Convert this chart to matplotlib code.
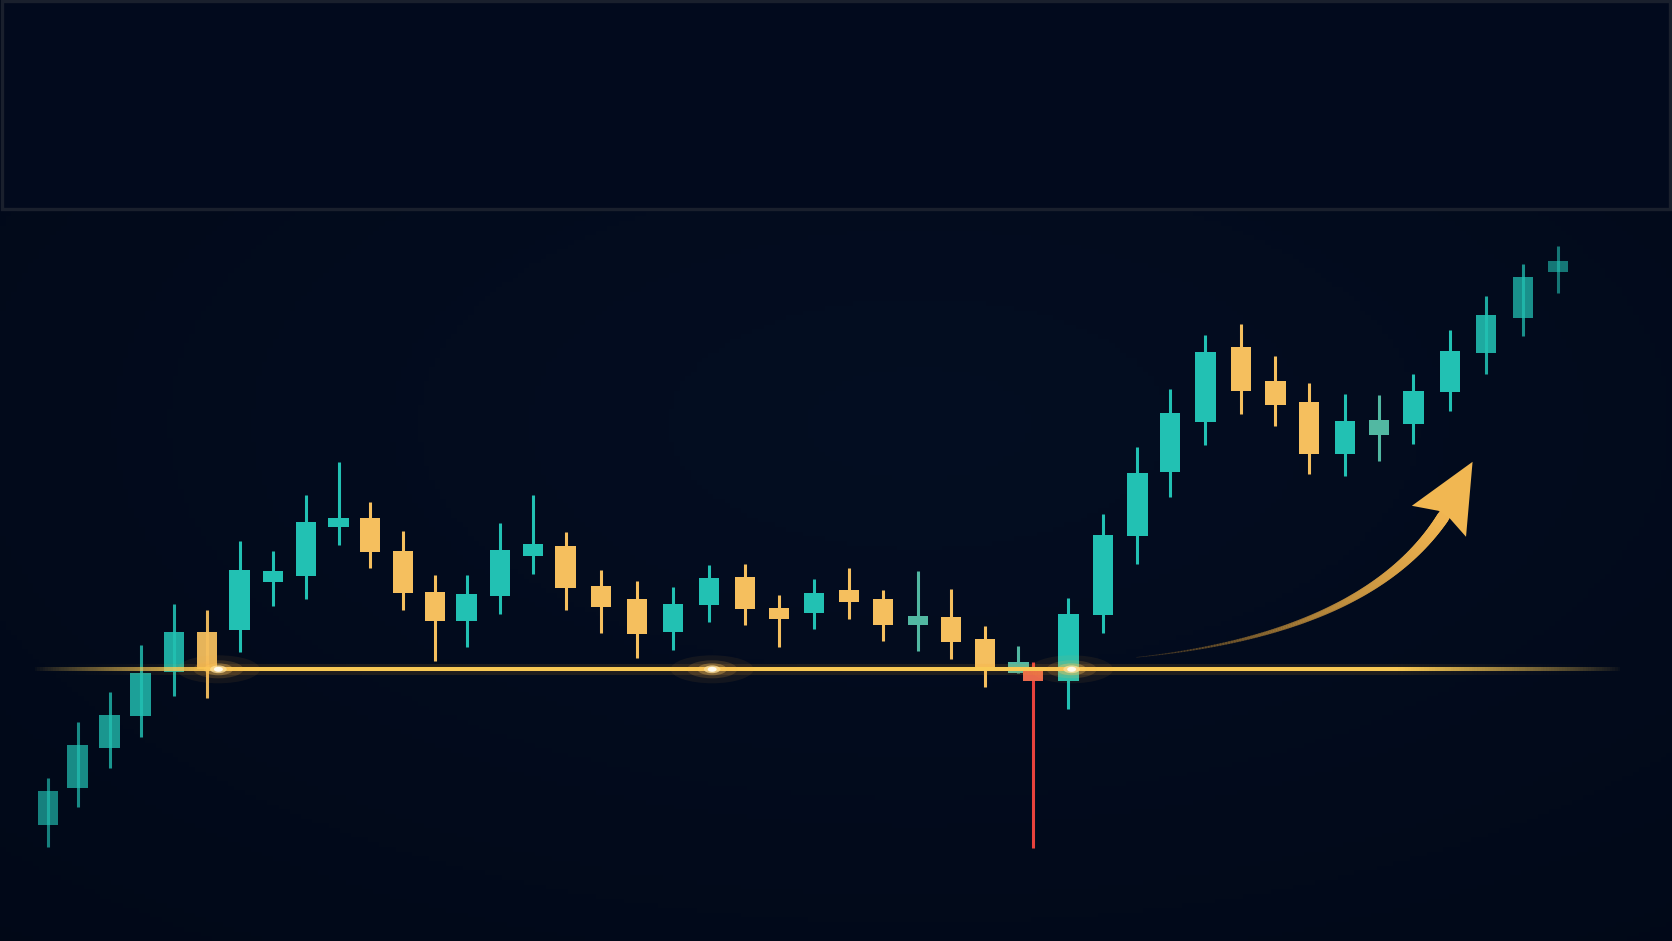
import numpy as np
import matplotlib.pyplot as plt
from matplotlib.collections import LineCollection
from matplotlib.patches import Rectangle, Polygon, Ellipse
from matplotlib.colors import to_rgba

# session positions (spacing is a bit uneven in the picture) and OHLC prices
x_pos = [0, 0.86, 1.79, 2.69, 3.65, 4.61, 5.56, 6.52, 7.48, 8.43, 9.33, 10.29,
         11.22, 12.14, 13.10, 14.06, 15.01, 16.03, 17.07, 18.12, 19.16, 20.20,
         21.19, 22.20, 23.22, 24.20, 25.22, 26.17, 27.16, 28.12, 28.55, 29.57,
         30.58, 31.57, 32.52, 33.54, 34.58, 35.57, 36.55, 37.59, 38.58, 39.57,
         40.64, 41.68, 42.75, 43.77]
opens = [68.9, 76.3, 84.2, 90.7, 99.5, 107.4, 107.9, 117.5, 118.7, 128.5, 130.2, 123.7,
         115.5, 109.7, 114.7, 122.7, 124.7, 116.7, 114.0, 107.4, 112.8, 118.4,
         112.2, 111.2, 115.8, 114.0, 108.9, 110.5, 106.0, 99.2, 99.9, 97.6,
         110.9, 126.7, 139.4, 149.4, 164.5, 157.6, 153.4, 143.0, 146.9, 149.1,
         155.4, 163.2, 170.3, 179.4]
highs = [78.3, 89.5, 95.5, 104.9, 113.1, 111.8, 125.6, 123.7, 134.8, 141.4, 133.5, 127.7,
         118.9, 118.8, 129.3, 134.8, 127.4, 119.9, 117.7, 116.5, 120.8, 121.1,
         114.9, 118.1, 120.2, 115.9, 119.6, 116.0, 108.7, 104.6, 101.4, 114.3,
         131.1, 144.5, 156.1, 166.9, 169.0, 162.7, 157.3, 155.0, 154.9, 159.1,
         167.9, 174.6, 181.1, 184.6]
lows = [64.5, 72.5, 80.2, 86.5, 94.7, 94.2, 103.4, 112.7, 114.1, 124.9, 120.2, 111.9,
        101.7, 104.5, 111.1, 119.1, 111.9, 107.2, 102.3, 103.9, 109.4, 108.9,
        104.4, 108.0, 110.0, 105.6, 103.7, 102.1, 96.4, 99.2, 64.3, 92.1,
        107.2, 121.0, 134.4, 144.9, 151.1, 148.7, 139.1, 138.6, 141.7, 145.0,
        151.7, 159.0, 166.6, 175.2]
closes = [75.7, 84.9, 90.8, 99.3, 107.4, 100.0, 119.8, 119.7, 129.5, 130.3, 123.5, 115.2,
          109.7, 115.1, 123.9, 125.1, 116.2, 112.5, 107.1, 113.1, 118.3, 112.0,
          110.1, 115.3, 113.5, 108.8, 110.7, 105.5, 99.9, 101.4, 97.6, 111.1,
          126.9, 139.3, 151.2, 163.5, 155.7, 152.9, 143.1, 149.6, 149.9, 155.6,
          163.6, 170.9, 178.4, 181.7]
muted_idx = [26, 29, 40]
spike_idx = 30
support = 100.0
glow_x = [4.94, 19.25, 29.67]

BG = "#020a1b"
TEAL = "#22c1b3"
GOLD = "#f5bf5e"
MUTED = "#52b8a2"

fig = plt.figure(figsize=(16.72, 9.41), dpi=100, facecolor=BG)
ax = fig.add_axes([0, 0, 1, 1])
ax.set_xlim(-1.39, 47.07)
ax.set_ylim(45.66, 233.86)
ax.axis("off")

# soft background gradient
yy, xx = np.mgrid[0:1:200j, 0:1:300j]
r = np.sqrt(((xx - 0.55) / 0.9) ** 2 + ((yy - 0.45) / 0.8) ** 2)
shade = np.clip(1 - r, 0, 1)
c0 = np.array(to_rgba("#010817")[:3])
c1 = np.array(to_rgba("#061229")[:3])
img = c0 + (c1 - c0) * shade[..., None] * 0.6
ax.imshow(img, extent=[0, 1, 0, 1], transform=ax.transAxes, aspect="auto", zorder=0)

# top panel
ax.add_patch(Rectangle((0.0012, 0.7775), 0.9976, 0.2215, transform=ax.transAxes,
                       facecolor="#020a1d", edgecolor="#1a202d", lw=2.4, zorder=1))

# candles
x = np.array(x_pos)
o = np.array(opens)
c = np.array(closes)
for i in range(len(x)):
    a_left = 0.66 + 0.34 * np.clip(x[i] / 5.5, 0, 1)
    a_right = 0.6 + 0.4 * np.clip((43.77 - x[i]) / 3.0, 0, 1)
    alpha = min(a_left, a_right)
    if i == spike_idx:
        body_col, wick_col, alpha = "#e86a4c", "#e8423d", 1.0
    elif i in muted_idx:
        body_col = wick_col = MUTED
    elif c[i] >= o[i]:
        body_col = wick_col = TEAL
    else:
        body_col = wick_col = GOLD
    ax.vlines(x[i], lows[i], highs[i], color=wick_col, lw=2.2, alpha=alpha, zorder=3)
    ax.bar(x[i], c[i] - o[i], bottom=o[i], width=0.6, color=body_col, alpha=alpha,
           edgecolor="none", zorder=4)

# support line with faded ends
xs = np.linspace(-0.46, 45.57, 600)
fade = np.minimum(np.clip((xs + 0.46) / 5.4, 0, 1), np.clip((45.57 - xs) / 6.5, 0, 1))
segs = [[(xs[k], support), (xs[k + 1], support)] for k in range(len(xs) - 1)]
halo = LineCollection(segs, colors=[to_rgba("#f5a623", 0.12 * f ** 1.5) for f in fade[:-1]],
                      linewidths=8, zorder=5)
core = LineCollection(segs, colors=[to_rgba("#f9c955", f ** 0.8) for f in fade[:-1]],
                      linewidths=2.9, zorder=6)
ax.add_collection(halo)
ax.add_collection(core)

# glow spots on the line (stretched along the line)
for gx in glow_x:
    for w, h, a, col in [(2.4, 5.6, 0.07, "#ffa83a"), (1.45, 3.6, 0.15, "#ffb84a"),
                         (0.85, 2.4, 0.32, "#ffc860"), (0.48, 1.55, 0.75, "#ffe09a"),
                         (0.26, 1.0, 1.0, "#fffaec")]:
        ax.add_patch(Ellipse((gx, support), w, h, facecolor=col, alpha=a,
                             edgecolor="none", zorder=7))

# curved golden arrow
p0 = np.array([31.55, 102.4])
p1 = np.array([38.25, 107.2])
p2 = np.array([40.45, 130.6])
t = np.linspace(0, 1, 140)[:, None]
curve = (1 - t) ** 2 * p0 + 2 * (1 - t) * t * p1 + t ** 2 * p2
asegs = [[curve[k], curve[k + 1]] for k in range(len(curve) - 1)]
tt = t[:-1, 0]
widths = 0.4 + 8.6 * tt ** 1.1
c_start = np.array(to_rgba("#8a6428"))
c_end = np.array(to_rgba("#f2b652"))
acols = [tuple((c_start + (c_end - c_start) * v)[:3]) + (0.3 + 0.7 * v,) for v in tt]
ax.add_collection(LineCollection(asegs, colors=acols, linewidths=widths,
                                 capstyle="round", zorder=5))
ax.add_patch(Polygon([(41.29, 141.5), (39.53, 132.7), (40.30, 131.7), (40.64, 130.1),
                      (41.10, 126.5)],
                     closed=True, facecolor="#f1b752", edgecolor="none", zorder=6))

fig.savefig("out.png", dpi=100, facecolor=BG)
